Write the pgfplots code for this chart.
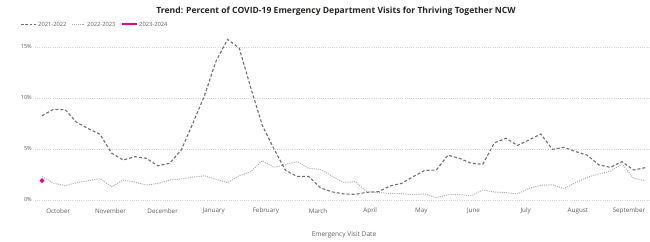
\documentclass[border=0pt]{standalone}
\usepackage{fontspec}
\setmainfont{Open Sans}
\usepackage{pgfplots}
\pgfplotsset{compat=1.18}
\usepackage{pgfplotstable}
\definecolor{dk}{HTML}{6E6E6E}
\definecolor{lt}{HTML}{ABABAB}
\definecolor{mag}{HTML}{E3008C}
\definecolor{lbl}{HTML}{605E5C}
\definecolor{ttl}{HTML}{252423}
\definecolor{grd}{HTML}{D4D4D4}

\pgfplotstableread{
w v
0 8.26
1 8.9
2 8.85
3 7.6
4 7.0
5 6.44
6 4.6
7 3.92
8 4.25
9 4.08
10 3.35
11 3.6
12 4.9
13 7.5
14 10.2
15 13.6
16 15.75
17 14.9
18 11.0
19 7.3
20 5.0
21 2.9
22 2.3
23 2.3
24 1.2
25 0.8
26 0.6
27 0.55
28 0.75
29 0.82
30 1.37
31 1.63
32 2.29
33 2.9
34 2.94
35 4.4
36 4.08
37 3.6
38 3.5
39 5.6
40 6.05
41 5.35
42 5.9
43 6.47
44 4.97
45 5.16
46 4.75
47 4.4
48 3.45
49 3.2
50 3.76
51 2.94
52 3.17
}\tA

\pgfplotstableread{
w v
0 2.29
1 1.65
2 1.4
3 1.7
4 1.9
5 2.09
6 1.3
7 1.96
8 1.76
9 1.47
10 1.63
11 1.96
12 2.06
13 2.25
14 2.38
15 2.03
16 1.7
17 2.38
18 2.78
19 3.86
20 3.2
21 3.5
22 3.76
23 3.1
24 3.0
25 2.35
26 1.7
27 1.8
28 0.82
29 0.72
30 0.65
31 0.62
32 0.52
33 0.6
34 0.23
35 0.52
36 0.52
37 0.42
38 0.98
39 0.78
40 0.72
41 0.6
42 1.14
43 1.44
44 1.5
45 1.11
46 1.7
47 2.22
48 2.55
49 2.81
50 3.53
51 2.12
52 1.9
}\tB

\pgfplotstableread{
w v
0 1.9
}\tC

\begin{document}
\begin{tikzpicture}
\path[use as bounding box] (0bp,0bp) rectangle (650bp,-242bp);
\node[font=\fontsize{8.6}{10}\selectfont\bfseries, text=ttl] at (336bp,-11bp) {Trend: Percent of COVID-19 Emergency Department Visits for Thriving Together NCW};
\node[font=\fontsize{6.6}{8}\selectfont, text=lbl] at (344bp,-235bp) {Emergency Visit Date};
% legend
\draw[dk, line width=1bp, dash pattern=on 2.6bp off 1.8bp] (21bp,-24bp) -- (36bp,-24bp);
\node[font=\fontsize{5.8}{7}\selectfont, text=lbl, anchor=west, inner sep=0pt] at (38bp,-24bp) {2021-2022};
\draw[lt, line width=0.9bp, dash pattern=on 0.9bp off 1bp] (72bp,-24bp) -- (85bp,-24bp);
\node[font=\fontsize{5.8}{7}\selectfont, text=lbl, anchor=west, inner sep=0pt] at (87bp,-24bp) {2022-2023};
\draw[mag, line width=1.2bp] (122bp,-24bp) -- (137bp,-24bp);
\node[font=\fontsize{5.8}{7}\selectfont, text=lbl, anchor=west, inner sep=0pt] at (139bp,-24bp) {2023-2024};
\begin{axis}[
  at={(35bp,-200bp)}, anchor=south west,
  width=614bp, height=163.2bp, scale only axis,
  xmin=-0.603, xmax=52.33, ymin=0, ymax=16,
  clip=false,
  axis line style={draw=none},
  major tick length=0pt,
  ytick={0,5,10,15},
  yticklabels={0\%,5\%,10\%,15\%},
  yticklabel style={font=\fontsize{5.6}{7}\selectfont, text=lbl, anchor=east, inner sep=0pt, xshift=-3bp},
  xtick={1.4,5.9,10.4,14.8,19.3,23.8,28.3,32.7,37.2,41.7,46.2,50.6},
  xticklabels={October,November,December,January,February,March,April,May,June,July,August,September},
  xticklabel style={font=\fontsize{6.3}{8}\selectfont, text=lbl, anchor=center, inner sep=0pt, yshift=-10.7bp},
  ymajorgrids,
  major grid style={draw=grd, line width=0.6bp, dash pattern=on 0.6bp off 1.6bp},
]
\addplot[dk, line width=1.1bp, dash pattern=on 3bp off 2bp] table[x=w,y=v]{\tA};
\addplot[lt, line width=1bp, dash pattern=on 1bp off 1.2bp] table[x=w,y=v]{\tB};
\addplot[mag, line width=1.1bp, mark=*, mark size=1.7bp] table[x=w,y=v]{\tC};
\end{axis}
\end{tikzpicture}
\end{document}
